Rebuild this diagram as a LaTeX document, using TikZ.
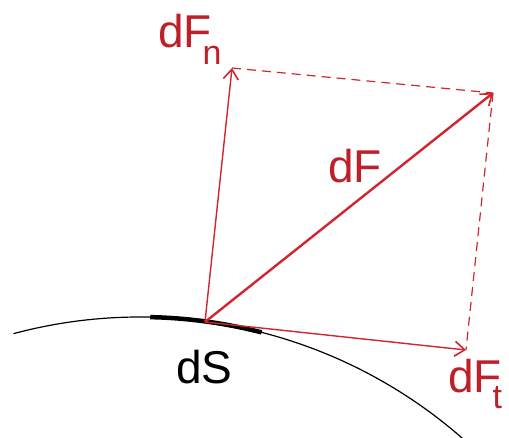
\documentclass[tikz,border=0pt]{standalone}
\usepackage{fontspec}
\setmainfont{Liberation Sans}
\usetikzlibrary{arrows.meta}
\definecolor{Rojo}{RGB}{208,38,48}
\definecolor{RojoTexto}{RGB}{190,32,42}
\newcommand{\subind}[1]{\kern-.2em\raisebox{-.36em}{\fontsize{34}{34}\selectfont #1}}

\begin{document}
\begin{tikzpicture}[x=1pt, y=1pt,
        vector/.style={draw=Rojo, line width=1.4pt, -{Straight Barb[length=10pt, width=15pt, line width=1.6pt]}},
        vector_F/.style={vector, line width=2.4pt},
        guia/.style={draw=Rojo, line width=1.2pt, dash pattern=on 9pt off 6pt},
        etiqueta/.style={font=\fontsize{46}{52}\selectfont, inner sep=0pt, anchor=base west},
        superficie/.style={draw=black, line width=1.2pt}
    ]
        % Marco de la imagen
        \useasboundingbox (0,0) rectangle (509,437);
        \fill[white] (0,0) rectangle (509,437);

        % Puntos del paralelogramo de fuerzas
        \coordinate (P) at (205,115);
        \coordinate (Fn) at (232,369);
        \coordinate (F) at (493,344);
        \coordinate (Ft) at (466,87);
        % Centro de la superficie curva
        \coordinate (C) at (140,-369);

        % Superficie (arco de circunferencia) y elemento dS
        \begin{scope}
            \clip (0,0) rectangle (509,437);
            \draw[superficie] (C) ++(105:489) arc (105:46:489);
            \draw[line width=4.5pt] (C) ++(88.8:489) arc (88.8:75.6:489);
        \end{scope}

        % Lineas auxiliares discontinuas
        \draw[guia] (Fn) -- (F);
        \draw[guia] (F) -- (Ft);

        % Vectores
        \draw[vector] (P) -- (Fn);
        \draw[vector] (P) -- (Ft);
        \draw[vector_F] (P) -- (F);

        % Etiquetas
        \node[etiqueta, text=RojoTexto] (lab_Fn) at (158,389) {dF\subind{n}};
        \node[etiqueta, text=RojoTexto] (lab_F) at (328,254) {dF};
        \node[etiqueta, text=RojoTexto] (lab_Ft) at (448,45) {dF\subind{t}};
        \node[etiqueta, text=black] (lab_S) at (176,54) {dS};
    \end{tikzpicture}
\end{document}
